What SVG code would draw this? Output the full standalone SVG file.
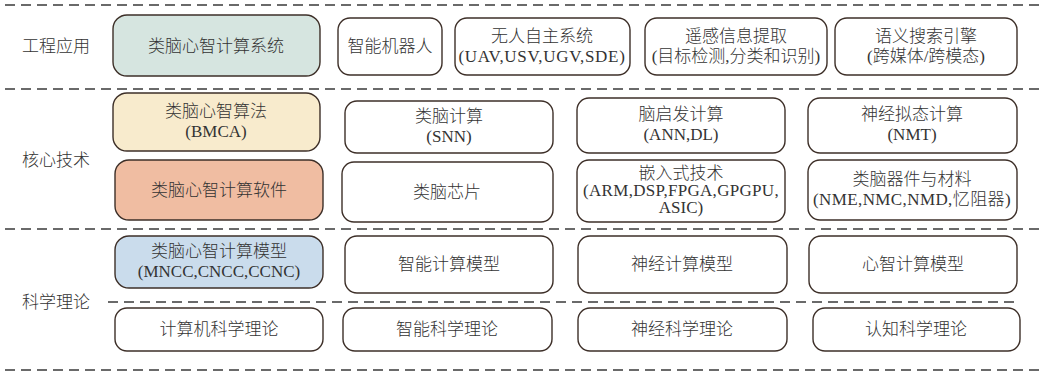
<svg xmlns="http://www.w3.org/2000/svg" width="1043" height="374" viewBox="0 0 1043 374">
<style>
.bg{fill:#ffffff}
.box{fill:#ffffff;stroke:#3d2f28;stroke-width:1.4}
.sep{stroke:#3a3a3a;stroke-width:1.6;stroke-dasharray:10 6;fill:none}
text{font-family:"Liberation Serif","Noto Sans CJK SC",serif;font-size:17px;font-weight:300;fill:#333333;text-anchor:middle}
.lab{text-anchor:start}
.wide{letter-spacing:0.7px}
</style>
<rect class="bg" x="0" y="0" width="1043" height="374"/>
<g id="separators">
<line class="sep" x1="5" y1="5" x2="1040" y2="5"/>
<line class="sep" x1="5" y1="89" x2="1040" y2="89"/>
<line class="sep" x1="5" y1="229" x2="1040" y2="229"/>
<line class="sep" x1="108" y1="302" x2="1016" y2="302"/>
<line class="sep" x1="5" y1="370" x2="1040" y2="370"/>
</g>
<g id="labels">
<text class="lab" x="22" y="52">工程应用</text>
<text class="lab" x="22" y="166">核心技术</text>
<text class="lab" x="22" y="308">科学理论</text>
</g>
<g id="n1"><rect class="box" x="113" y="15" width="207" height="61" rx="14" style="fill:#d6e5e0"/><text x="216" y="52">类脑心智计算系统</text></g>
<g id="n2"><rect class="box" x="338" y="18" width="104" height="57" rx="12"/><text x="390" y="52">智能机器人</text></g>
<g id="n3"><rect class="box" x="455" y="18" width="175" height="57" rx="12"/><text x="542" y="42">无人自主系统</text><text class="wide" x="542" y="62">(UAV,USV,UGV,SDE)</text></g>
<g id="n4"><rect class="box" x="645" y="18" width="182" height="57" rx="12"/><text x="736" y="42">遥感信息提取</text><text x="736" y="62">(目标检测,分类和识别)</text></g>
<g id="n5"><rect class="box" x="835" y="18" width="182" height="57" rx="12"/><text x="926" y="42">语义搜索引擎</text><text x="926" y="62">(跨媒体/跨模态)</text></g>

<g id="n6"><rect class="box" x="113" y="93" width="207" height="58" rx="14" style="fill:#f8ebcd"/><text x="216" y="117">类脑心智算法</text><text x="216" y="137">(BMCA)</text></g>
<g id="n7"><rect class="box" x="345" y="101" width="208" height="52" rx="12"/><text x="449" y="122">类脑计算</text><text x="449" y="142">(SNN)</text></g>
<g id="n8"><rect class="box" x="577" y="98" width="208" height="55" rx="12"/><text x="681" y="120">脑启发计算</text><text x="681" y="140">(ANN,DL)</text></g>
<g id="n9"><rect class="box" x="808" y="98" width="209" height="55" rx="12"/><text x="912" y="120">神经拟态计算</text><text x="912" y="140">(NMT)</text></g>

<g id="n10"><rect class="box" x="115" y="160" width="208" height="60" rx="14" style="fill:#f0bda2"/><text x="219" y="196">类脑心智计算软件</text></g>
<g id="n11"><rect class="box" x="342" y="162" width="211" height="60" rx="12"/><text x="447" y="198">类脑芯片</text></g>
<g id="n12"><rect class="box" x="577" y="160" width="208" height="62" rx="12"/><text x="681" y="179">嵌入式技术</text><text class="wide" x="681" y="196" style="letter-spacing:0.3px">(ARM,DSP,FPGA,GPGPU,</text><text x="681" y="213">ASIC)</text></g>
<g id="n13"><rect class="box" x="808" y="160" width="209" height="60" rx="12"/><text x="912" y="185">类脑器件与材料</text><text x="912" y="205" style="letter-spacing:0.4px">(NME,NMC,NMD,忆阻器)</text></g>

<g id="n14"><rect class="box" x="115" y="236" width="208" height="52" rx="14" style="fill:#cadcec"/><text x="219" y="257">类脑心智计算模型</text><text x="219" y="277">(MNCC,CNCC,CCNC)</text></g>
<g id="n15"><rect class="box" x="345" y="236" width="208" height="57" rx="12"/><text x="449" y="270">智能计算模型</text></g>
<g id="n16"><rect class="box" x="578" y="236" width="209" height="57" rx="12"/><text x="682" y="270">神经计算模型</text></g>
<g id="n17"><rect class="box" x="809" y="236" width="208" height="57" rx="12"/><text x="913" y="270">心智计算模型</text></g>

<g id="n18"><rect class="box" x="115" y="308" width="208" height="43" rx="12"/><text x="219" y="335">计算机科学理论</text></g>
<g id="n19"><rect class="box" x="343" y="308" width="209" height="43" rx="12"/><text x="447" y="335">智能科学理论</text></g>
<g id="n20"><rect class="box" x="578" y="308" width="209" height="43" rx="12"/><text x="682" y="335">神经科学理论</text></g>
<g id="n21"><rect class="box" x="813" y="308" width="207" height="43" rx="12"/><text x="916" y="335">认知科学理论</text></g>
<g id="connectors"></g>
</svg>
